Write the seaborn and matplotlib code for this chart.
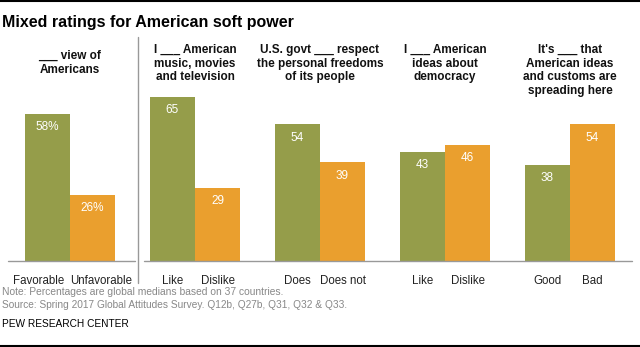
import matplotlib
matplotlib.use("Agg")
import matplotlib.pyplot as plt
from matplotlib.lines import Line2D
from matplotlib.transforms import ScaledTranslation
import seaborn as sns
import pandas as pd

title = "Mixed ratings for American soft power"
headers = ["___ view of\nAmericans",
           "I ___ American\nmusic, movies\nand television",
           "U.S. govt ___ respect\nthe personal freedoms\nof its people",
           "I ___ American\nideas about\ndemocracy",
           "It's ___ that\nAmerican ideas\nand customs are\nspreading here"]
pos_labels = ["Favorable", "Like", "Does", "Like", "Good"]
neg_labels = ["Unfavorable", "Dislike", "Does not", "Dislike", "Bad"]
pos_values = [58, 65, 54, 43, 38]
neg_values = [26, 29, 39, 46, 54]
note = "Note: Percentages are global medians based on 37 countries."
source = "Source: Spring 2017 Global Attitudes Survey. Q12b, Q27b, Q31, Q32 & Q33."
credit = "PEW RESEARCH CENTER"

green = "#959D4A"
orange = "#EA9F2E"

sns.set_theme(style="white")
plt.rcParams['font.family'] = ['Liberation Sans', 'DejaVu Sans']

rows = []
for i in range(5):
    rows.append({"group": i, "side": "pos", "value": pos_values[i], "label": pos_labels[i]})
    rows.append({"group": i, "side": "neg", "value": neg_values[i], "label": neg_labels[i]})
df = pd.DataFrame(rows)

W, H = 640, 347
fig = plt.figure(figsize=(W / 100, H / 100), dpi=100)
base_px = 261
unit = 2.53
ymax = 80
ax = fig.add_axes([7.5 / W, 1 - base_px / H, 625 / W, ymax * unit / H])
sns.barplot(data=df, x="group", y="value", hue="side", hue_order=["pos", "neg"],
            palette=[green, orange], width=0.72, dodge=True, legend=False,
            saturation=1, ax=ax, order=[0, 1, 2, 3, 4], linewidth=0, edgecolor="none")
ax.set_xlim(-0.5, 4.5)
ax.set_ylim(0, ymax)
for s in ax.spines.values():
    s.set_visible(False)
ax.set_yticks([])
ax.set_xlabel("")
ax.set_ylabel("")

patches = [p for p in ax.patches if p.get_height() > 0]
centers, labels = [], []
for p in patches:
    centers.append(p.get_x() + p.get_width() / 2)
for i, p in enumerate(patches):
    g = i % 5
    is_pos = i < 5
    val = pos_values[g] if is_pos else neg_values[g]
    txt = f"{val}%" if g == 0 else f"{val}"
    ax.annotate(txt, (centers[i], p.get_height()), xytext=(0, -9.5), textcoords="offset points",
                ha="center", va="center", color="white", fontsize=8.5)
    labels.append(pos_labels[g] if is_pos else neg_labels[g])
ax.set_xticks(centers)
ax.set_xticklabels(labels, fontsize=8.3, color="#222222")
ax.tick_params(axis="x", length=0, pad=10)
# the first group's labels spread outward, as in the reference
tl = ax.get_xticklabels()
tl[0].set_transform(tl[0].get_transform() + ScaledTranslation(-9 / 100, 0, fig.dpi_scale_trans))
tl[5].set_transform(tl[5].get_transform() + ScaledTranslation(9 / 100, 0, fig.dpi_scale_trans))

ax.plot([-0.496, 0.52], [0, 0], color="#999999", lw=1, clip_on=False)
ax.plot([0.592, 4.496], [0, 0], color="#999999", lw=1, clip_on=False)

for g in range(5):
    xf = (7.5 + (g + 0.5) * 125) / W
    top = 50 if g == 0 else 44
    fig.text(xf, 1 - top / H, headers[g], ha="center", va="top", fontsize=8.5,
             fontweight="bold", linespacing=1.18, color="#111111")

fig.add_artist(Line2D([138 / W, 138 / W], [1 - 37 / H, 1 - 283 / H], color="#999999", lw=1))
fig.add_artist(Line2D([0, 1], [1 - 1 / H, 1 - 1 / H], color="black", lw=1.5))
fig.add_artist(Line2D([0, 1], [1 - 345.5 / H, 1 - 345.5 / H], color="black", lw=1.5))

fig.text(2 / W, 1 - 22 / H, title, ha="left", va="center", fontsize=11.5, fontweight="bold", color="black")
fig.text(2 / W, 1 - 292 / H, note, ha="left", va="center", fontsize=7.4, color="#888888")
fig.text(2 / W, 1 - 305 / H, source, ha="left", va="center", fontsize=7.3, color="#888888")
fig.text(2 / W, 1 - 324 / H, credit, ha="left", va="center", fontsize=7.3, color="black")

fig.savefig("out.png", dpi=100)
